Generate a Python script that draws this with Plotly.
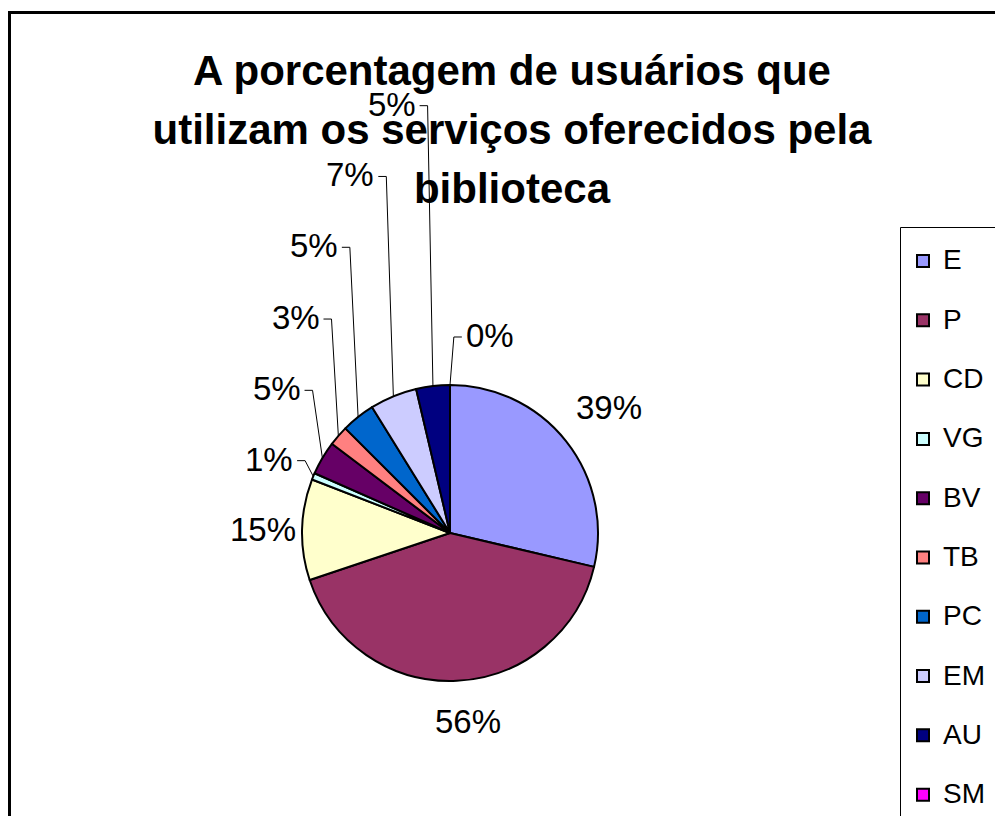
import numpy as np
import plotly.graph_objects as go

# ---------------- data ----------------
categories = ["E", "P", "CD", "VG", "BV", "TB", "PC", "EM", "AU", "SM"]
values = [39, 56, 15, 1, 5, 3, 5, 7, 5, 0]
label_text = ["39%", "56%", "15%", "1%", "5%", "3%", "5%", "7%", "5%", "0%"]
colors = ["#9999FF", "#993366", "#FFFFCC", "#CCFFFF", "#660066",
          "#FF8080", "#0066CC", "#CCCCFF", "#000080", "#FF00FF"]
title_lines = ["A porcentagem de usuários que",
               "utilizam os serviços oferecidos pela",
               "biblioteca"]

# ---------------- layout constants (screen pixels) ----------------
W, H = 1003, 816
OFF = 8                                   # default page margin of the html body
CX, CY, R = 450.0, 533.0, 148.0           # pie centre / radius
FONT = "Arial, 'Liberation Sans', sans-serif"
LABEL_FS = 33
# label displacement from the slice's outer-edge mid point (Excel-style moved labels)
label_offsets = [(42.5, -33.6), (10.7, 40.7), (-39.5, 0.1), (-44.0, -17.2),
                 (-45.7, -69.2), (-42.7, -118.3), (-44.1, -171.2),
                 (-42.9, -221.3), (-41.2, -281.8), (39.7, -49.5)]
has_leader = [False, False, False, True, True, True, True, True, True, True]


def px(x, y):
    """screen pixel -> paper fraction"""
    return (x - OFF) / W, 1 - (y - OFF) / H


fig = go.Figure()

d0 = px(CX - R, CY + R)
d1 = px(CX + R, CY - R)
fig.add_trace(go.Pie(
    labels=[" <br><span style='font-size:28px'>%s</span>" % c for c in categories],
    values=values,
    sort=False,
    direction="clockwise",
    rotation=0,
    textinfo="none",
    hoverinfo="label+value",
    marker=dict(colors=colors, line=dict(color="black", width=2)),
    domain=dict(x=[d0[0], d1[0]], y=[d0[1], d1[1]]),
))

# slice mid-angles derived from the values
vals = np.array(values, dtype=float)
total = vals.sum()
mid = (np.cumsum(vals) - vals / 2) / total * 2 * np.pi

annotations = []
shapes = []
for i, t in enumerate(label_text):
    ax = CX + R * np.sin(mid[i])
    ay = CY - R * np.cos(mid[i])
    lx = ax + label_offsets[i][0]
    ly = ay + label_offsets[i][1]
    x, y = px(lx, ly)
    annotations.append(dict(x=x, y=y, xref="paper", yref="paper", text=t,
                            showarrow=False, xanchor="center", yanchor="middle",
                            font=dict(family=FONT, size=LABEL_FS, color="black")))
    if has_leader[i]:
        ndig = len(t) - 1
        hw = (0.556 * ndig + 0.889) * LABEL_FS / 2
        side = 1 if lx < ax else -1
        sx = lx + side * (hw + 4)
        ex = sx + side * 8
        yy = ly + 1.5
        p0, p1, p2 = px(sx, yy), px(ex, yy), px(ax, ay)
        shapes.append(dict(type="path", xref="paper", yref="paper",
                           path="M %f,%f L %f,%f L %f,%f" % (p0[0], p0[1], p1[0], p1[1], p2[0], p2[1]),
                           line=dict(color="black", width=1)))

# chart-area border and legend box (both run off the right/bottom edge)
a0 = px(9.5, 12.5)
shapes.append(dict(type="rect", xref="paper", yref="paper", x0=a0[0], y0=a0[1], x1=1.05, y1=-0.05,
                   line=dict(color="black", width=3), fillcolor="rgba(0,0,0,0)", layer="below"))
b0 = px(900.5, 227.5)
shapes.append(dict(type="rect", xref="paper", yref="paper", x0=b0[0], y0=b0[1], x1=1.05, y1=-0.05,
                   line=dict(color="black", width=1), fillcolor="rgba(0,0,0,0)", layer="below"))

title_text = "<br>".join("<span style='font-size:42px'>%s</span>" % s for s in title_lines)
tx, ty = px(512, 85)
lgx, lgy = px(903, 212.3)

LEG_FS = 21.65
fig.update_layout(
    width=W, height=H,
    margin=dict(l=0, r=0, t=0, b=0, autoexpand=False),
    paper_bgcolor="white",
    plot_bgcolor="white",
    title=dict(text=title_text, x=tx, xanchor="center", xref="container",
               y=ty, yanchor="top", yref="container",
               font=dict(family=FONT, size=45.4, color="black", weight="bold")),
    showlegend=True,
    legend=dict(x=lgx, xanchor="left", y=lgy, yanchor="top",
                font=dict(family=FONT, size=LEG_FS, color="black"),
                bgcolor="rgba(0,0,0,0)", borderwidth=0, valign="bottom",
                traceorder="normal"),
    annotations=annotations,
    shapes=shapes,
)

fig.write_html("out.html")
